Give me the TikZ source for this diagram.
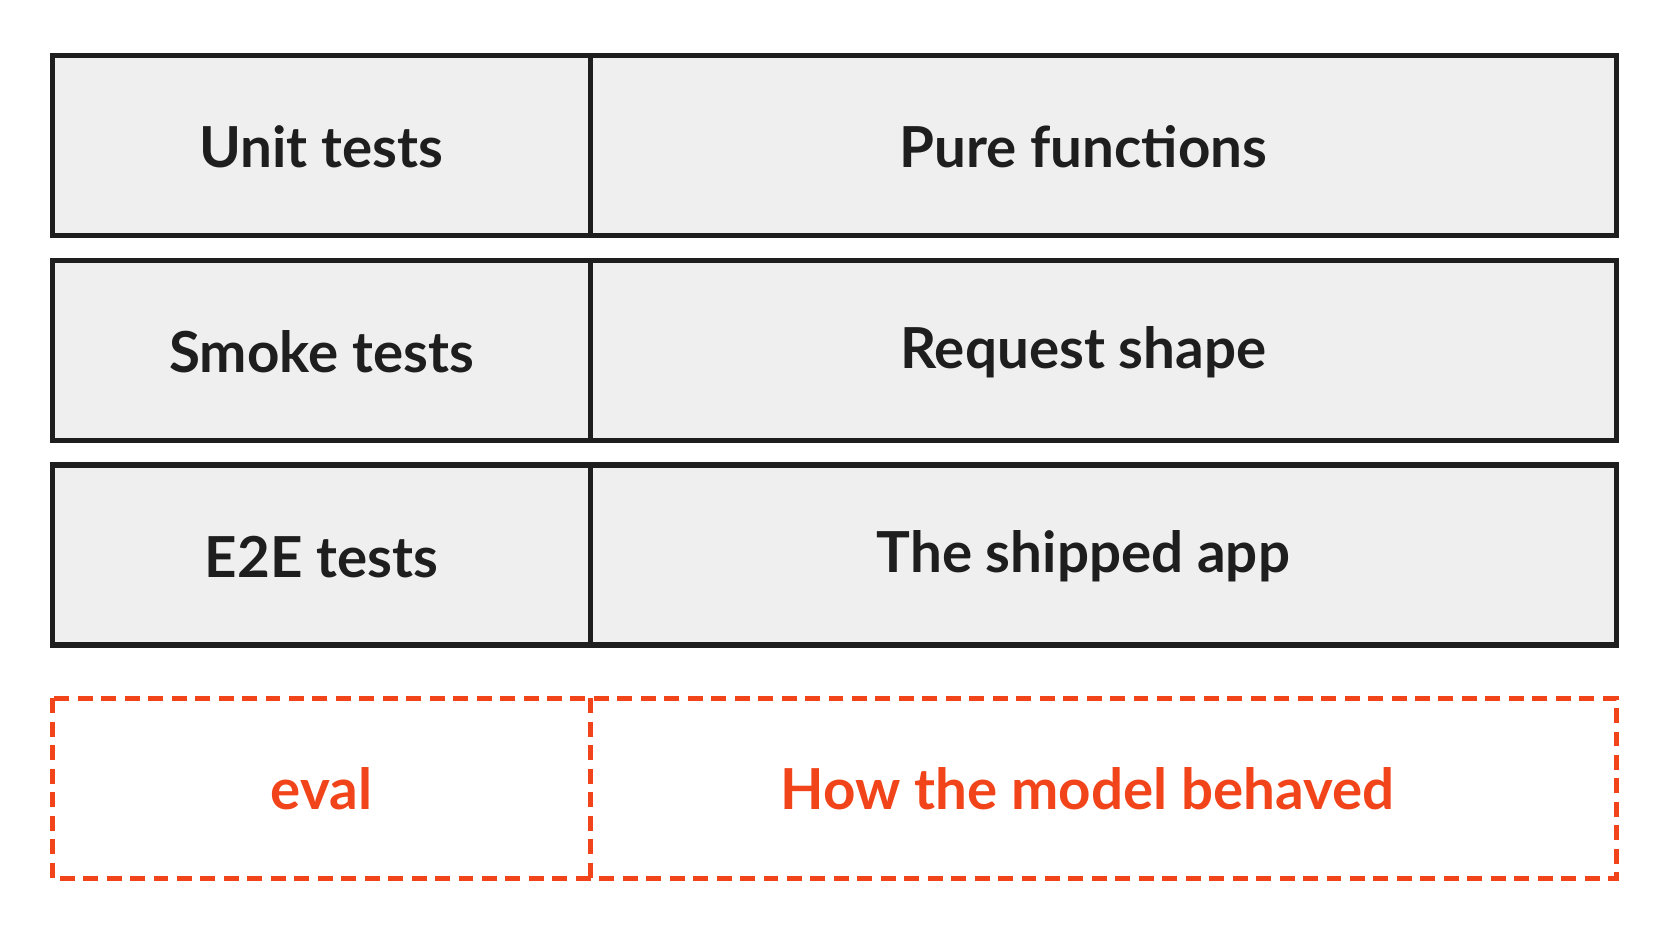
\documentclass[tikz,border=0pt]{standalone}
\usepackage{fontspec}
\setmainfont{Lato}
\definecolor{ink}{HTML}{1E1E1E}
\definecolor{cellbg}{HTML}{EFEFEF}
\definecolor{accent}{HTML}{F2441A}
\begin{document}
\begin{tikzpicture}[x=1pt,y=-1pt,
  cell/.style={draw=ink,line width=5pt,fill=cellbg},
  dcell/.style={draw=accent,line width=4.5pt,dash pattern=on 14pt off 8pt},
  lbl/.style={font=\fontsize{53}{60}\selectfont\bfseries,text=ink},
  dlbl/.style={font=\fontsize{53}{60}\selectfont\bfseries,text=accent}]
\fill[white] (0,0) rectangle (1568,882);
\useasboundingbox (0,0) rectangle (1568,882);
\foreach \t/\a/\b [count=\i] in {52/Unit tests/Pure functions,244/Smoke tests/Request shape,436/E2E tests/The shipped app}{
  \draw[cell] (49,\t) rectangle (554,\t+169);
  \draw[cell] (554,\t) rectangle (1516,\t+169);
  \node[lbl] (l\i) at (301.5,\t+86) {\a};
  \node[lbl] (r\i) at (1016,\t+86) {\b};
}
\draw[dcell] (49,655) rectangle (1516,824);
\draw[dcell] (554,655) -- (554,824);
\node[dlbl] (l4) at (301.5,740) {eval};
\node[dlbl] (r4) at (1020,740) {How the model behaved};
\end{tikzpicture}
\end{document}
